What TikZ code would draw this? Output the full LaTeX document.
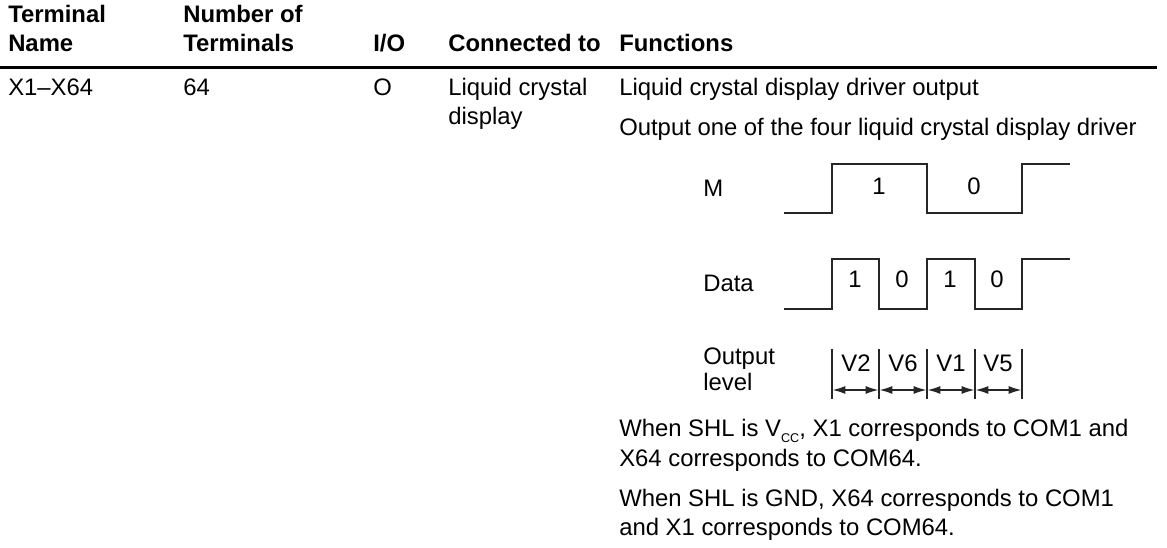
\documentclass[tikz,border=0pt]{standalone}
\usepackage{fontspec}
\setmainfont{Liberation Sans}
\usetikzlibrary{arrows.meta,positioning}

\begin{document}
\begin{tikzpicture}[x=0.75pt,y=-0.75pt]
\tikzstyle{head}=[anchor=base west, inner sep=0pt, font=\bfseries\fontsize{17.9}{20}\selectfont]
\tikzstyle{body}=[anchor=base west, inner sep=0pt, font=\fontsize{17.9}{20}\selectfont]
\tikzstyle{digit}=[anchor=base, inner sep=0pt, font=\fontsize{17.9}{20}\selectfont]
\tikzstyle{wave}=[line width=0.9pt, line join=miter, black!85]
\tikzstyle{span}=[line width=0.9pt, black!85, {Latex[length=9.5pt,width=6pt]}-{Latex[length=9.5pt,width=6pt]}, shorten >=0.5pt, shorten <=0.5pt]
\useasboundingbox (0,0) rectangle (1167,548);
% header
\node[head] (h1) at (8,23) {Terminal};
\node[head] (h2) at (8,52) {Name};
\node[head] (h3) at (183,23) {Number of};
\node[head] (h4) at (183,52) {Terminals};
\node[head] (h5) at (373,52) {I/O};
\node[head] (h6) at (448,52) {Connected to};
\node[head] (h7) at (619,52) {Functions};
\draw[line width=2.25pt] (0,68) to (1157,68);
% row
\node[body] (0) at (8,96) {X1–X64};
\node[body] (1) at (183,96) {64};
\node[body] (2) at (373,96) {O};
\node[body] (3) at (448,96) {Liquid crystal};
\node[body] (4) at (448,125) {display};
\node[body] (5) at (619,96) {Liquid crystal display driver output};
\node[body] (6) at (619,136) {Output one of the four liquid crystal display driver};
% waveforms
\node[body] (m) at (703,197) {M};
\node[body] (d) at (703,292) {Data};
\node[body] (o1) at (703,365) {Output};
\node[body] (o2) at (703,391) {level};
\draw[wave] (784,213) -- (832,213) -- (832,164) -- (927,164) -- (927,213) -- (1022,213) -- (1022,164) -- (1070,164);
\node[digit] (m1) at (879,195) {1};
\node[digit] (m0) at (974,195) {0};
\draw[wave] (784,309) -- (832,309) -- (832,259) -- (879,259) -- (879,309) -- (927,309) -- (927,259) -- (975,259) -- (975,309) -- (1022,309) -- (1022,259) -- (1070,259);
\node[digit] (d1) at (855,288) {1};
\node[digit] (d2) at (902,288) {0};
\node[digit] (d3) at (950,288) {1};
\node[digit] (d4) at (997,288) {0};
% output level
\coordinate (a0) at (832,390);
\coordinate (a1) at (879,390);
\coordinate (a2) at (927,390);
\coordinate (a3) at (975,390);
\coordinate (a4) at (1022,390);
\foreach \x in {832,879,927,975,1022}
  \draw[wave] (\x,349) -- (\x,399);
\draw[span] (a0) to (a1);
\draw[span] (a1) to (a2);
\draw[span] (a2) to (a3);
\draw[span] (a3) to (a4);
\node[digit] (v1) at (856,372) {V2};
\node[digit] (v2) at (903,372) {V6};
\node[digit] (v3) at (951,372) {V1};
\node[digit] (v4) at (998,372) {V5};
% notes
\node[body] (7) at (619,437) {When SHL is V\raisebox{-4.5pt}{\fontsize{9.5}{10}\selectfont CC}, X1 corresponds to COM1 and};
\node[body] (8) at (619,467) {X64 corresponds to COM64.};
\node[body] (9) at (619,507) {When SHL is GND, X64 corresponds to COM1};
\node[body] (10) at (619,536) {and X1 corresponds to COM64.};
\end{tikzpicture}
\end{document}
